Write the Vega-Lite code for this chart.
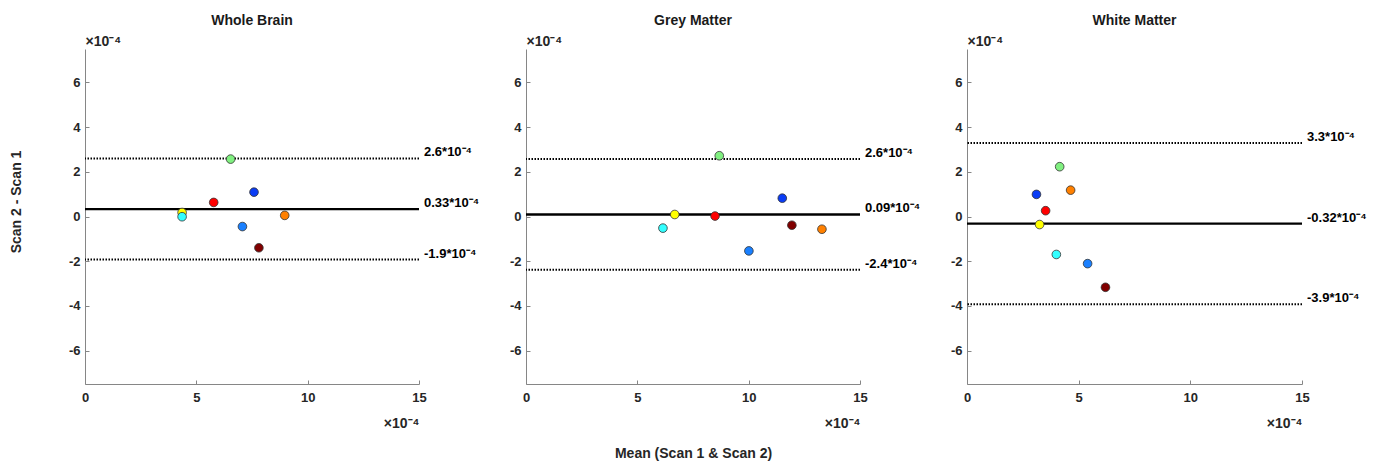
{
  "$schema": "https://vega.github.io/schema/vega-lite/v6.json",
  "background": "white",
  "padding": {"left": 10, "top": 14, "right": 5, "bottom": 3},
  "config": {
    "font": "Liberation Sans",
    "view": {"stroke": null},
    "axis": {
      "domainColor": "#868686", "domainWidth": 1,
      "tickColor": "#868686", "tickWidth": 1, "tickSize": -4,
      "labelFont": "Liberation Sans", "labelFontSize": 13, "labelFontWeight": "bold", "labelColor": "#262626",
      "labelFlush": false, "labelOverlap": false,
      "labelExpr": "datum.value < 0 ? '-' + abs(datum.value) : '' + datum.value",
      "grid": false,
      "titleFont": "Liberation Sans", "titleFontSize": 14, "titleFontWeight": "bold", "titleColor": "#262626"
    },
    "axisY": {"labelPadding": 9},
    "axisX": {"labelPadding": 11}
  },
  "datasets": {
    "points": [
      {"panel": "WB", "subject": "S5", "mean": 4.36, "diff": 0.18},
      {"panel": "WB", "subject": "S3", "mean": 4.36, "diff": -0.01},
      {"panel": "WB", "subject": "S4", "mean": 6.54, "diff": 2.57},
      {"panel": "WB", "subject": "S1", "mean": 7.59, "diff": 1.09},
      {"panel": "WB", "subject": "S7", "mean": 5.78, "diff": 0.63},
      {"panel": "WB", "subject": "S6", "mean": 8.97, "diff": 0.05},
      {"panel": "WB", "subject": "S2", "mean": 7.07, "diff": -0.45},
      {"panel": "WB", "subject": "S8", "mean": 7.81, "diff": -1.40},
      {"panel": "GM", "subject": "S5", "mean": 6.68, "diff": 0.09},
      {"panel": "GM", "subject": "S3", "mean": 6.15, "diff": -0.52},
      {"panel": "GM", "subject": "S4", "mean": 8.68, "diff": 2.72},
      {"panel": "GM", "subject": "S1", "mean": 11.51, "diff": 0.82},
      {"panel": "GM", "subject": "S7", "mean": 8.49, "diff": 0.02},
      {"panel": "GM", "subject": "S6", "mean": 13.29, "diff": -0.57},
      {"panel": "GM", "subject": "S2", "mean": 10.01, "diff": -1.54},
      {"panel": "GM", "subject": "S8", "mean": 11.94, "diff": -0.39},
      {"panel": "WM", "subject": "S5", "mean": 3.25, "diff": -0.36},
      {"panel": "WM", "subject": "S3", "mean": 4.0, "diff": -1.70},
      {"panel": "WM", "subject": "S4", "mean": 4.15, "diff": 2.23},
      {"panel": "WM", "subject": "S1", "mean": 3.11, "diff": 0.99},
      {"panel": "WM", "subject": "S7", "mean": 3.52, "diff": 0.26},
      {"panel": "WM", "subject": "S6", "mean": 4.64, "diff": 1.18},
      {"panel": "WM", "subject": "S2", "mean": 5.40, "diff": -2.11},
      {"panel": "WM", "subject": "S8", "mean": 6.2, "diff": -3.17}
    ],
    "lines": [
      {"panel": "WB", "kind": "limit", "diff": 2.6, "label": "2.6*10⁻⁴"},
      {"panel": "WB", "kind": "mean", "diff": 0.33, "label": "0.33*10⁻⁴"},
      {"panel": "WB", "kind": "limit", "diff": -1.93, "label": "-1.9*10⁻⁴"},
      {"panel": "GM", "kind": "limit", "diff": 2.57, "label": "2.6*10⁻⁴"},
      {"panel": "GM", "kind": "mean", "diff": 0.09, "label": "0.09*10⁻⁴"},
      {"panel": "GM", "kind": "limit", "diff": -2.38, "label": "-2.4*10⁻⁴"},
      {"panel": "WM", "kind": "limit", "diff": 3.29, "label": "3.3*10⁻⁴"},
      {"panel": "WM", "kind": "mean", "diff": -0.32, "label": "-0.32*10⁻⁴"},
      {"panel": "WM", "kind": "limit", "diff": -3.93, "label": "-3.9*10⁻⁴"}
    ]
  },
  "title": {"text": "Mean (Scan 1 & Scan 2)", "orient": "bottom", "anchor": "middle", "fontSize": 14, "fontWeight": "bold", "color": "#262626", "font": "Liberation Sans", "offset": 17, "dx": 5},
  "vconcat": [
    {
      "title": {"text": "Scan 2 - Scan 1", "orient": "left", "anchor": "middle", "fontSize": 14, "fontWeight": "bold", "color": "#262626", "font": "Liberation Sans", "offset": 44, "dx": 20},
      "spacing": 107,
      "bounds": "flush",
      "hconcat": [
        {
          "width": 334, "height": 335,
          "title": {"text": "Whole Brain", "fontSize": 14, "fontWeight": "bold", "color": "#1a1a1a", "font": "Liberation Sans", "offset": 6},
          "encoding": {
            "y": {"field": "diff", "type": "quantitative", "scale": {"domain": [-7.5, 7.5], "nice": false, "zero": false},
              "axis": {"values": [-6, -4, -2, 0, 2, 4, 6], "title": "×10⁻⁴", "titleAngle": 0, "titleAlign": "left", "titleBaseline": "alphabetic", "titleX": 0, "titleY": -4}}
          },
          "layer": [
            {"data": {"name": "lines"}, "transform": [{"filter": "datum.panel === 'WB' && datum.kind === 'limit'"}],
             "mark": {"type": "rule", "color": "black", "strokeWidth": 2, "strokeDash": [1.5, 1.5]}},
            {"data": {"name": "lines"}, "transform": [{"filter": "datum.panel === 'WB' && datum.kind === 'mean'"}],
             "mark": {"type": "rule", "color": "black", "strokeWidth": 2.3}},
            {"data": {"name": "points"}, "transform": [{"filter": "datum.panel === 'WB'"}],
             "mark": {"type": "circle", "size": 75, "stroke": "#333333", "strokeWidth": 0.8, "opacity": 1},
             "encoding": {
               "x": {"field": "mean", "type": "quantitative", "scale": {"domain": [0, 15], "nice": false},
                 "axis": {"values": [0, 5, 10, 15], "title": "×10⁻⁴", "titleAngle": 0, "titleAlign": "right", "titleBaseline": "alphabetic", "titleX": 334, "titleY": 43}},
               "color": {"field": "subject", "type": "nominal", "legend": null,
                 "scale": {"domain": ["S1", "S2", "S3", "S4", "S5", "S6", "S7", "S8"], "range": ["#0a3cf5", "#1a80ff", "#33ffff", "#80f080", "#ffff00", "#ff8000", "#ff0000", "#800000"]}}
             }},
            {"data": {"name": "lines"}, "transform": [{"filter": "datum.panel === 'WB'"}],
             "mark": {"type": "text", "align": "left", "baseline": "alphabetic", "dx": 5, "dy": -2, "fontSize": 13, "fontWeight": "bold", "color": "black", "font": "Liberation Sans"},
             "encoding": {"x": {"value": "width"}, "text": {"field": "label"}}}
          ]
        },
        {
          "width": 334, "height": 335,
          "title": {"text": "Grey Matter", "fontSize": 14, "fontWeight": "bold", "color": "#1a1a1a", "font": "Liberation Sans", "offset": 6},
          "encoding": {
            "y": {"field": "diff", "type": "quantitative", "scale": {"domain": [-7.5, 7.5], "nice": false, "zero": false},
              "axis": {"values": [-6, -4, -2, 0, 2, 4, 6], "title": "×10⁻⁴", "titleAngle": 0, "titleAlign": "left", "titleBaseline": "alphabetic", "titleX": 0, "titleY": -4}}
          },
          "layer": [
            {"data": {"name": "lines"}, "transform": [{"filter": "datum.panel === 'GM' && datum.kind === 'limit'"}],
             "mark": {"type": "rule", "color": "black", "strokeWidth": 2, "strokeDash": [1.5, 1.5]}},
            {"data": {"name": "lines"}, "transform": [{"filter": "datum.panel === 'GM' && datum.kind === 'mean'"}],
             "mark": {"type": "rule", "color": "black", "strokeWidth": 2.3}},
            {"data": {"name": "points"}, "transform": [{"filter": "datum.panel === 'GM'"}],
             "mark": {"type": "circle", "size": 75, "stroke": "#333333", "strokeWidth": 0.8, "opacity": 1},
             "encoding": {
               "x": {"field": "mean", "type": "quantitative", "scale": {"domain": [0, 15], "nice": false},
                 "axis": {"values": [0, 5, 10, 15], "title": "×10⁻⁴", "titleAngle": 0, "titleAlign": "right", "titleBaseline": "alphabetic", "titleX": 334, "titleY": 43}},
               "color": {"field": "subject", "type": "nominal", "legend": null,
                 "scale": {"domain": ["S1", "S2", "S3", "S4", "S5", "S6", "S7", "S8"], "range": ["#0a3cf5", "#1a80ff", "#33ffff", "#80f080", "#ffff00", "#ff8000", "#ff0000", "#800000"]}}
             }},
            {"data": {"name": "lines"}, "transform": [{"filter": "datum.panel === 'GM'"}],
             "mark": {"type": "text", "align": "left", "baseline": "alphabetic", "dx": 5, "dy": -2, "fontSize": 13, "fontWeight": "bold", "color": "black", "font": "Liberation Sans"},
             "encoding": {"x": {"value": "width"}, "text": {"field": "label"}}}
          ]
        },
        {
          "width": 335, "height": 335,
          "title": {"text": "White Matter", "fontSize": 14, "fontWeight": "bold", "color": "#1a1a1a", "font": "Liberation Sans", "offset": 6},
          "encoding": {
            "y": {"field": "diff", "type": "quantitative", "scale": {"domain": [-7.5, 7.5], "nice": false, "zero": false},
              "axis": {"values": [-6, -4, -2, 0, 2, 4, 6], "title": "×10⁻⁴", "titleAngle": 0, "titleAlign": "left", "titleBaseline": "alphabetic", "titleX": 0, "titleY": -4}}
          },
          "layer": [
            {"data": {"name": "lines"}, "transform": [{"filter": "datum.panel === 'WM' && datum.kind === 'limit'"}],
             "mark": {"type": "rule", "color": "black", "strokeWidth": 2, "strokeDash": [1.5, 1.5]}},
            {"data": {"name": "lines"}, "transform": [{"filter": "datum.panel === 'WM' && datum.kind === 'mean'"}],
             "mark": {"type": "rule", "color": "black", "strokeWidth": 2.3}},
            {"data": {"name": "points"}, "transform": [{"filter": "datum.panel === 'WM'"}],
             "mark": {"type": "circle", "size": 75, "stroke": "#333333", "strokeWidth": 0.8, "opacity": 1},
             "encoding": {
               "x": {"field": "mean", "type": "quantitative", "scale": {"domain": [0, 15], "nice": false},
                 "axis": {"values": [0, 5, 10, 15], "title": "×10⁻⁴", "titleAngle": 0, "titleAlign": "right", "titleBaseline": "alphabetic", "titleX": 335, "titleY": 43}},
               "color": {"field": "subject", "type": "nominal", "legend": null,
                 "scale": {"domain": ["S1", "S2", "S3", "S4", "S5", "S6", "S7", "S8"], "range": ["#0a3cf5", "#1a80ff", "#33ffff", "#80f080", "#ffff00", "#ff8000", "#ff0000", "#800000"]}}
             }},
            {"data": {"name": "lines"}, "transform": [{"filter": "datum.panel === 'WM'"}],
             "mark": {"type": "text", "align": "left", "baseline": "alphabetic", "dx": 5, "dy": -2, "fontSize": 13, "fontWeight": "bold", "color": "black", "font": "Liberation Sans"},
             "encoding": {"x": {"value": "width"}, "text": {"field": "label"}}}
          ]
        }
      ]
    }
  ]
}
